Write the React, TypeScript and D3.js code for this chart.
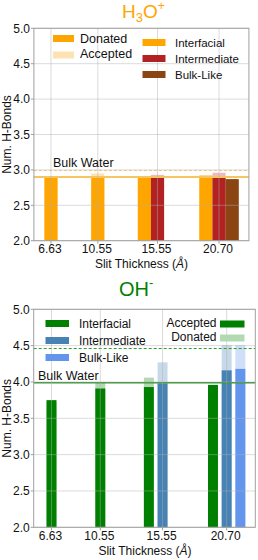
import * as d3 from 'd3';

const thickness = [6.63, 10.55, 15.55, 20.7];
const thicknessLabels = ['6.63', '10.55', '15.55', '20.70'];
const yTicks = [2.0, 2.5, 3.0, 3.5, 4.0, 4.5, 5.0];
const regions = ['Interfacial', 'Intermediate', 'Bulk-Like'];

// H3O+ : solid = donated, light = accepted
const h3oDonated = [
  [2.9, 2.9, 2.91, 2.92],
  [null, null, 2.89, 2.9],
  [null, null, null, 2.87],
];
const h3oAccepted = [
  [2.88, 2.95, 2.89, 2.9],
  [null, null, 2.93, 2.96],
  [null, null, null, 2.85],
];
const h3oBulkDonated = 2.9;
const h3oBulkAccepted = 2.99;

// OH- : solid = accepted, light = donated
const ohAccepted = [
  [3.75, 3.91, 3.93, 3.96],
  [null, null, 3.98, 4.16],
  [null, null, null, 4.18],
];
const ohDonated = [
  [3.72, 4.0, 4.06, 3.94],
  [null, null, 4.27, 4.51],
  [null, null, null, 4.51],
];
const ohBulkAccepted = 3.99;
const ohBulkDonated = 4.46;

const FONT = 'Liberation Sans, Arial, sans-serif';

type Panel = {
  xRange: [number, number];
  xDomain: [number, number];
  yRange: [number, number];
  solid: (number | null)[][];
  light: (number | null)[][];
  colors: string[];
  lightColors: string[];
  barWidth: number;
  tickBaseline: number;
  labelBaseline: number;
  labelX: number;
};

function Bars({ p }: { p: Panel }) {
  const x = d3.scaleLinear().domain(p.xDomain).range(p.xRange);
  const y = d3.scaleLinear().domain([2, 5]).range(p.yRange);
  const step = 1.1;
  const out: JSX.Element[] = [];
  thickness.forEach((t, i) => {
    const present = p.solid.filter((s) => s[i] != null).length;
    const shift = present > 1 ? 1 : 0;
    [0, 1].forEach((layer) => {
      p.solid.forEach((s, r) => {
        const v = layer === 0 ? p.light[r][i] : s[i];
        if (v == null) return;
        const c = t + (r - shift) * step;
        const x0 = x(c - p.barWidth / 2);
        const x1 = x(c + p.barWidth / 2);
        out.push(
          <rect
            key={`${i}-${r}-${layer}`}
            x={x0}
            y={y(v)}
            width={x1 - x0}
            height={y(2) - y(v)}
            fill={layer === 0 ? p.lightColors[r] : p.colors[r]}
          />
        );
      });
    });
  });
  return <g>{out}</g>;
}

function Frame({ p, children }: { p: Panel; children: any }) {
  const x = d3.scaleLinear().domain(p.xDomain).range(p.xRange);
  const y = d3.scaleLinear().domain([2, 5]).range(p.yRange);
  const [x0, x1] = p.xRange;
  const [yb, yt] = p.yRange;
  return (
    <g>
      {children}
      {yTicks.map((v) => (
        <line key={`gy${v}`} x1={x0} x2={x1} y1={y(v)} y2={y(v)} stroke="#b0b0b0" strokeOpacity={0.45} strokeWidth={1} />
      ))}
      {thickness.map((t) => (
        <line key={`gx${t}`} x1={x(t)} x2={x(t)} y1={yb} y2={yt} stroke="#b0b0b0" strokeOpacity={0.45} strokeWidth={1} />
      ))}
      <rect x={x0} y={yt} width={x1 - x0} height={yb - yt} fill="none" stroke="#a0a0a0" strokeWidth={1} />
      {yTicks.map((v) => (
        <g key={`ty${v}`}>
          <line x1={x0 - 3} x2={x0} y1={y(v)} y2={y(v)} stroke="#a0a0a0" />
          <text x={x0 - 4} y={y(v) + 4.3} textAnchor="end" fontSize={12} fill="#111" fontFamily={FONT}>
            {v.toFixed(1)}
          </text>
        </g>
      ))}
      {thickness.map((t, i) => (
        <g key={`tx${t}`}>
          <line x1={x(t)} x2={x(t)} y1={yb} y2={yb + 3} stroke="#a0a0a0" />
          <text x={x(t) - 1} y={p.tickBaseline} textAnchor="middle" fontSize={12} fill="#111" fontFamily={FONT}>
            {thicknessLabels[i]}
          </text>
        </g>
      ))}
      <text x={p.labelX} y={p.labelBaseline} textAnchor="middle" fontSize={12} fill="#111" fontFamily={FONT}>
        Slit Thickness (<tspan fontStyle="italic">Å</tspan>)
      </text>
      <text
        transform={`translate(11,${(yb + yt) / 2}) rotate(-90)`}
        textAnchor="middle"
        fontSize={12}
        fill="#111"
        fontFamily={FONT}
      >
        Num. H-Bonds
      </text>
    </g>
  );
}

function Swatch({ x, y, w, h, fill }: { x: number; y: number; w: number; h: number; fill: string }) {
  return <rect x={x} y={y} width={w} height={h} fill={fill} />;
}

export default function App() {
  const top: Panel = {
    xRange: [33.9, 248.9],
    xDomain: [5.2, 23.2],
    yRange: [240.7, 28.3],
    solid: h3oDonated,
    light: h3oAccepted,
    colors: ['#ffa500', '#b22222', '#8b4513'],
    lightColors: ['#fde3b4', '#ecbcbc', '#dcc5b5'],
    barWidth: 1.1,
    tickBaseline: 253,
    labelBaseline: 268,
    labelX: 141.5,
  };
  const bottom: Panel = {
    xRange: [33.7, 255.3],
    xDomain: [5.2, 23.0],
    yRange: [527.3, 309.3],
    solid: ohAccepted,
    light: ohDonated,
    colors: ['#008000', '#4682b4', '#6495ed'],
    lightColors: ['#b3d9b3', '#c7d9e8', '#d0dff9'],
    barWidth: 0.8,
    tickBaseline: 540,
    labelBaseline: 555,
    labelX: 145,
  };
  const yT = d3.scaleLinear().domain([2, 5]).range(top.yRange);
  const yB = d3.scaleLinear().domain([2, 5]).range(bottom.yRange);

  return (
    <svg
      width={258}
      height={560}
      style={{ position: 'absolute', left: 0, top: 0, background: '#fff' }}
      fontFamily={FONT}
    >
      {/* H3O+ panel */}
      <text x={122} y={18} fontSize={19} fill="#ffa500" fontFamily={FONT}>
        H<tspan fontSize={13} dy={4}>3</tspan>
        <tspan dy={-4}>O</tspan>
        <tspan fontSize={12} dy={-8}>+</tspan>
      </text>
      <Frame p={top}>
        <Bars p={top} />
        <line x1={top.xRange[0]} x2={top.xRange[1]} y1={yT(h3oBulkAccepted)} y2={yT(h3oBulkAccepted)} stroke="#f7c978" strokeWidth={1} strokeDasharray="3,2" />
        <line x1={top.xRange[0]} x2={top.xRange[1]} y1={yT(h3oBulkDonated)} y2={yT(h3oBulkDonated)} stroke="#f7c462" strokeWidth={2} />
      </Frame>
      <text x={53} y={167} fontSize={12.5} fill="#111">Bulk Water</text>
      <Swatch x={53} y={35} w={21} h={7} fill="#ffa500" />
      <text x={80} y={43} fontSize={12.5} fill="#111">Donated</text>
      <Swatch x={53} y={51.5} w={21} h={7} fill="#fde3b4" />
      <text x={80} y={57.5} fontSize={12.5} fill="#111">Accepted</text>
      {regions.map((r, i) => (
        <g key={`lt${r}`}>
          <Swatch x={142.5} y={39 + i * 16} w={23} h={7} fill={top.colors[i]} />
          <text x={175} y={46.5 + i * 16} fontSize={11.5} fill="#111">{r}</text>
        </g>
      ))}

      {/* OH- panel */}
      <text x={119} y={296} fontSize={20} fill="#008000" fontFamily={FONT}>
        OH<tspan fontSize={13} dy={-9}>-</tspan>
      </text>
      <Frame p={bottom}>
        <Bars p={bottom} />
        <line x1={bottom.xRange[0]} x2={bottom.xRange[1]} y1={yB(ohBulkDonated)} y2={yB(ohBulkDonated)} stroke="#2e9a2e" strokeWidth={1} strokeDasharray="3,2" />
        <line x1={bottom.xRange[0]} x2={bottom.xRange[1]} y1={yB(ohBulkAccepted)} y2={yB(ohBulkAccepted)} stroke="#3c963c" strokeWidth={1.5} />
      </Frame>
      <text x={38} y={380} fontSize={12.5} fill="#111">Bulk Water</text>
      {regions.map((r, i) => (
        <g key={`lb${r}`}>
          <Swatch x={45.5} y={320 + i * 17} w={23.5} h={7} fill={bottom.colors[i]} />
          <text x={79} y={327.5 + i * 17} fontSize={12} fill="#111">{r}</text>
        </g>
      ))}
      <text x={216.5} y={326.5} textAnchor="end" fontSize={12} fill="#111">Accepted</text>
      <Swatch x={220} y={320.5} w={24.5} h={7} fill="#008000" />
      <text x={216.5} y={341} textAnchor="end" fontSize={12} fill="#111">Donated</text>
      <Swatch x={220} y={334.5} w={24.5} h={7} fill="#b3d9b3" />
    </svg>
  );
}
